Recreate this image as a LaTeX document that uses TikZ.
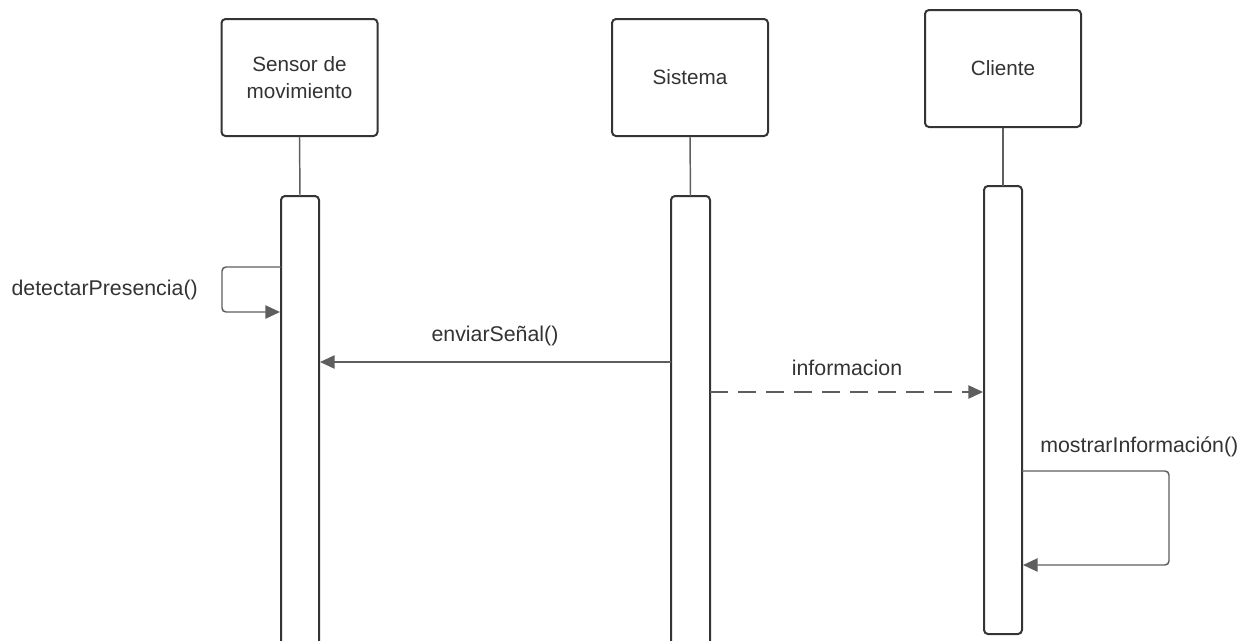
\documentclass[tikz,border=0pt]{standalone}
\usepackage{fontspec}
\setmainfont{Liberation Sans}
\usetikzlibrary{arrows.meta}
\definecolor{boxline}{HTML}{333438}
\definecolor{wire}{HTML}{5E5E5E}
\definecolor{txt}{HTML}{333333}
\tikzset{
  actor/.style={draw=boxline, line width=1.5pt, rounded corners=3pt, fill=white,
    minimum width=156*0.75pt, minimum height=117*0.75pt, inner sep=0pt,
    align=center, text=txt, font=\fontsize{15.5}{20}\selectfont},
  bar/.style={draw=boxline, line width=1.5pt, rounded corners=3pt, fill=white},
  life/.style={draw=wire, line width=1.1pt},
  msg/.style={draw=wire, line width=1.1pt, rounded corners=3pt,
    -{Triangle[length=11pt,width=10pt]}, color=wire},
  ret/.style={msg, dash pattern=on 13.5pt off 7.5pt},
  lbl/.style={text=txt, font=\fontsize{16}{20}\selectfont, inner sep=0pt}
}
\begin{document}
\begin{tikzpicture}[x=0.75pt,y=-0.75pt]
\useasboundingbox (0,0) rectangle (1254,640);
\clip (0,0) rectangle (1254,640);
% actors
\node[actor] (sensor) at (299.5,77.5) {Sensor de\\movimiento};
\node[actor] (sistema) at (690,77.5) {Sistema};
\node[actor] (cliente) at (1003,68.5) {Cliente};
% activation bars
\draw[bar] (281,196) rectangle (319,680);
\draw[bar] (671,196) rectangle (710,680);
\draw[bar] (984,186) rectangle (1022,634);
\coordinate (senbarTop) at (300,196);
\coordinate (sisbarTop) at (690.5,196);
\coordinate (clibarTop) at (1003,186);
% lifelines
\draw[life] (sensor.south) -- (senbarTop);
\draw[life] (sistema.south) -- (sisbarTop);
\draw[life] (cliente.south) -- (clibarTop);
% detectarPresencia self-call
\coordinate (dpA) at (281,267);
\coordinate (dpB) at (280,312);
\draw[msg] (dpA) -- (222,267) -- (222,312) -- (dpB);
\node[lbl, anchor=east] (dpL) at (198,290) {detectarPresencia()};
% enviarSeñal
\coordinate (esA) at (671,362);
\coordinate (esB) at (320,362);
\draw[msg] (esA) -- (esB);
\node[lbl] (esL) at (495,336) {enviarSeñal()};
% informacion
\coordinate (inA) at (710,392);
\coordinate (inB) at (983,392);
\draw[ret] (inA) -- (inB);
\node[lbl] (inL) at (847,368) {informacion};
% mostrarInformacion self-call
\coordinate (miA) at (1022,471);
\coordinate (miB) at (1023,565);
\draw[msg] (miA) -- (1169,471) -- (1169,565) -- (miB);
\node[lbl, anchor=west] (miL) at (1040,447) {mostrarInformación()};
\end{tikzpicture}
\end{document}
